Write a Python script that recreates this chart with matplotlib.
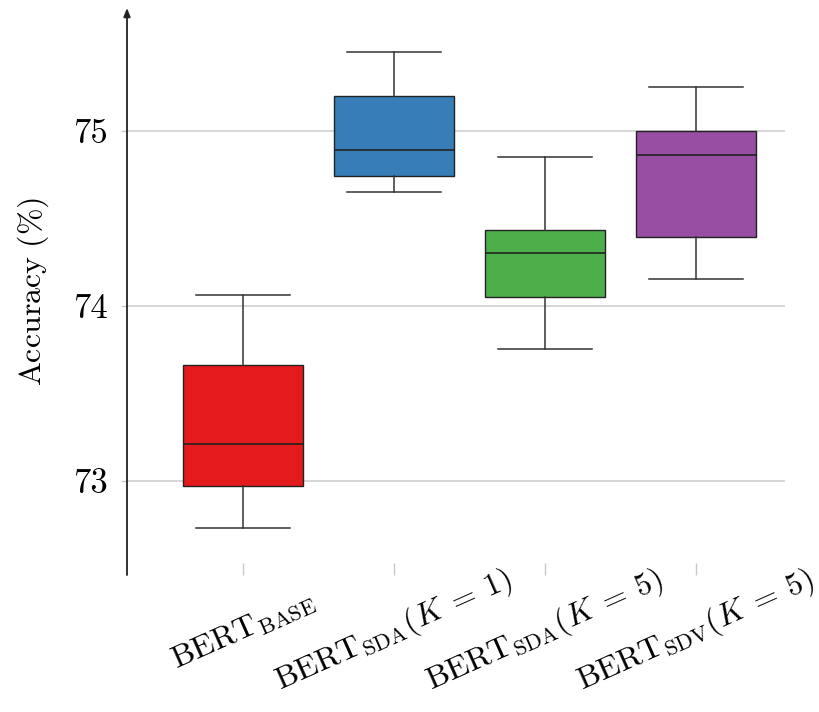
import matplotlib
matplotlib.use("Agg")
import matplotlib.pyplot as plt

plt.rcParams['font.family'] = 'serif'
plt.rcParams['font.serif'] = ['cmr10', 'DejaVu Serif']
plt.rcParams['mathtext.fontset'] = 'cm'
plt.rcParams['axes.unicode_minus'] = False
plt.rcParams['axes.formatter.use_mathtext'] = True

labels = [r'$\mathrm{BERT}_{\mathrm{BASE}}$',
          r'$\mathrm{BERT}_{\mathrm{SDA}}(K\:=\:1)$',
          r'$\mathrm{BERT}_{\mathrm{SDA}}(K\:=\:5)$',
          r'$\mathrm{BERT}_{\mathrm{SDV}}(K\:=\:5)$']
whislo = [72.73, 74.65, 73.75, 74.15]
q1 = [72.97, 74.74, 74.05, 74.39]
med = [73.21, 74.89, 74.30, 74.86]
q3 = [73.66, 75.20, 74.43, 75.00]
whishi = [74.06, 75.45, 74.85, 75.25]
colors = ['#e41a1c', '#377eb8', '#4daf4a', '#984ea3']
yticks = [73, 74, 75]

fig = plt.figure(figsize=(8.19, 7.12), dpi=100)
ax = fig.add_axes([127/819, 1-575/712, (785-127)/819, (575-8)/712])

stats = []
for i in range(len(labels)):
    stats.append(dict(whislo=whislo[i], q1=q1[i], med=med[i], q3=q3[i],
                      whishi=whishi[i], fliers=[]))
positions = list(range(1, len(labels) + 1))
bp = ax.bxp(stats, positions=positions, widths=0.8, capwidths=0.62,
            patch_artist=True, showfliers=False,
            boxprops=dict(edgecolor='#222222', linewidth=1.0),
            medianprops=dict(color='#222222', linewidth=1.2),
            whiskerprops=dict(color='#333333', linewidth=1.1),
            capprops=dict(color='#333333', linewidth=1.1), zorder=3)
for patch, c in zip(bp['boxes'], colors):
    patch.set_facecolor(c)

ax.set_xlim(0.232, 4.589)
ax.set_ylim(72.46, 75.70)
ax.set_yticks(yticks)
ax.set_yticklabels([str(t) for t in yticks], fontsize=25)
ax.grid(axis='y', color='#d0d0d0', linewidth=1.2, zorder=0)
ax.set_axisbelow(True)
ax.tick_params(axis='y', direction='out', length=4, color='#c8c8c8', width=1.0, pad=10)
ax.set_xticks(positions)
ax.set_xticklabels(labels, fontsize=23, rotation=24, rotation_mode='anchor',
                   ha='center', va='center')
ax.tick_params(axis='x', direction='in', length=9, color='#c8c8c8', width=1.0, pad=40)
ax.get_xticklabels()[-1].set_x(3.97)

for s in ['top', 'right', 'bottom', 'left']:
    ax.spines[s].set_visible(False)

ax.annotate('', xy=(0, 1), xytext=(0, 0), xycoords='axes fraction',
            textcoords='axes fraction',
            arrowprops=dict(arrowstyle='-|>,head_length=0.5,head_width=0.2',
                            color='#222222', linewidth=1.3,
                            shrinkA=0, shrinkB=0), annotation_clip=False)

ax.set_ylabel(r'$\mathrm{Accuracy\ (\%)}$', fontsize=23, labelpad=16)

fig.savefig('out.png', dpi=100)
